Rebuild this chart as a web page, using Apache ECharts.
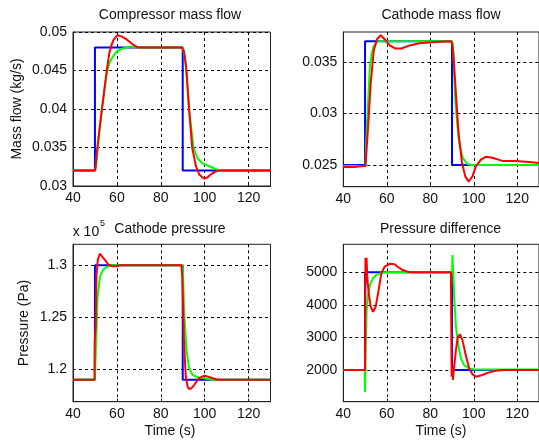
<!DOCTYPE html>
<html>
<head>
<meta charset="utf-8">
<script src="https://cdn.jsdelivr.net/npm/echarts@6/dist/echarts.min.js"></script>
<style>
html,body{margin:0;padding:0;background:#fff;}
#chart{width:539px;height:441px;}
</style>
</head>
<body>
<div id="chart"></div>
<script>
// ---------- Data (time in s) ----------
const xTicks = [40, 60, 80, 100, 120];

// Panel 1: Compressor mass flow (kg/s)
const cmfTicks = [0.03, 0.035, 0.04, 0.045, 0.05];
const cmfBlue = [[40,0.032],[50,0.032],[50,0.048],[90,0.048],[90,0.032],[130,0.032]];
const cmfGreen = [[40,0.032],[50,0.032],[50.5,0.0326],[51.3,0.035],[52.1,0.0375],[53.2,0.04],[54.4,0.0428],[55.6,0.045],[56.6,0.046],[57.7,0.0466],[60,0.0475],[63,0.0479],[66.1,0.0481],[70,0.048],[90,0.048],[90.4,0.0475],[91.3,0.0462],[92.9,0.04],[94.9,0.035],[96.7,0.0336],[99,0.0329],[102,0.0326],[106.7,0.032],[130,0.032]];
const cmfRed = [[40,0.032],[50.1,0.032],[50.6,0.0333],[51.1,0.035],[53.2,0.04],[55.4,0.045],[56.5,0.0472],[57.3,0.0481],[58.5,0.049],[60.3,0.0496],[62.3,0.0494],[64.6,0.049],[66.3,0.0486],[67.7,0.0483],[69.5,0.048],[89.5,0.048],[90.6,0.0475],[91.7,0.045],[92.9,0.04],[94.3,0.035],[96,0.0326],[97.5,0.0315],[99.8,0.03095],[101.2,0.0311],[102.8,0.0315],[104.5,0.0318],[105.9,0.032],[130,0.032]];

// Panel 2: Cathode mass flow
const camfTicks = [0.025, 0.03, 0.035];
const camfBlue = [[40,0.025],[50,0.025],[50,0.037],[90,0.037],[90,0.025],[130,0.025]];
const camfGreen = [[40,0.0249],[50.2,0.0249],[50.7,0.0281],[51.5,0.0315],[52.2,0.0345],[53,0.0357],[53.7,0.0364],[55,0.0368],[56,0.037],[90,0.037],[90.5,0.0365],[91.5,0.0313],[92.4,0.029],[93.3,0.0271],[94.9,0.0257],[97.1,0.0251],[99,0.025],[130,0.025]];
const camfRed = [[40,0.0248],[45,0.0248],[49,0.0249],[50.2,0.0249],[51.4,0.0287],[52.6,0.0329],[54,0.0361],[55.5,0.0372],[57.2,0.0376],[59,0.0372],[61.3,0.0366],[64,0.0363],[66.7,0.0363],[70.5,0.0366],[75,0.0368],[81,0.0369],[88.8,0.037],[90,0.0369],[90.6,0.0358],[91.8,0.0319],[93,0.0281],[94.6,0.0252],[96.1,0.0239],[97.6,0.0234],[99.4,0.0239],[101,0.0249],[103.2,0.0255],[105.5,0.0258],[108.6,0.0257],[113.1,0.0254],[119.2,0.0254],[125.3,0.0253],[130,0.0252]];

// Panel 3: Cathode pressure (x 10^5 Pa)
const cpTicks = [1.2, 1.25, 1.3];
const cpBlue = [[40,1.19],[50,1.19],[50,1.3],[90,1.3],[90,1.19],[130,1.19]];
const cpGreen = [[40,1.19],[50,1.19],[50.4,1.219],[51.2,1.27],[52.3,1.289],[53.8,1.296],[55.3,1.298],[57.6,1.3],[90,1.3],[90.1,1.295],[90.6,1.257],[91.7,1.219],[92.9,1.2013],[94.4,1.195],[96.7,1.1924],[99.8,1.1914],[103.5,1.19],[130,1.19]];
const cpRed = [[40,1.19],[49.8,1.19],[49.9,1.228],[50.3,1.24],[50.7,1.29],[51.3,1.305],[52.2,1.311],[53,1.31],[54.6,1.3048],[56.1,1.3006],[57.6,1.299],[60,1.299],[61.5,1.3],[89.4,1.3],[89.8,1.289],[90.3,1.25],[90.6,1.225],[91.4,1.193],[92.3,1.183],[93,1.181],[94,1.182],[95.2,1.185],[97.5,1.1917],[99.8,1.194],[102.1,1.1927],[104.4,1.191],[106,1.19],[130,1.19]];

// Panel 4: Pressure difference (Pa)
const pdTicks = [2000, 3000, 4000, 5000];
const pdBlue = [[40,2000],[50,2000],[50,5000],[90,5000],[90,2000],[130,2000]];
const pdGreen = [[40,2000],[49.8,2000],[50,1330],[50.3,2600],[50.7,3800],[51.3,4250],[52.2,4610],[53.7,4820],[55.2,4920],[58,4990],[60,5000],[90,5000],[90.2,5530],[91,4250],[91.8,3330],[93,2715],[94.1,2360],[95.6,2150],[97.9,2050],[100.3,2020],[130,2020]];
const pdRed = [[40,2000],[50,2000],[50.2,5450],[50.5,4650],[50.7,5450],[51,4870],[51.7,4355],[52.6,3946],[53.7,3790],[54.9,3946],[56,4355],[57.5,4970],[59,5174],[61.3,5260],[63.6,5246],[65,5170],[67.3,5070],[69.5,5020],[71,5000],[89.5,5000],[89.8,1800],[90.1,2100],[90.4,1700],[90.8,2000],[91.8,2610],[92.6,3000],[93.6,3100],[94.8,2920],[96.3,2460],[97.9,2050],[99.4,1870],[101.2,1795],[103.9,1850],[107,1930],[110.8,1990],[114,2000],[130,2000]];

// ---------- Chart ----------
const FONT = 'Liberation Sans, Arial, sans-serif';
const TXT = '#111';
const grids = [
  {left:73, top:32, width:197.5, height:154},
  {left:343.3, top:32, width:197, height:154.7},
  {left:73, top:244.3, width:197.5, height:157.4},
  {left:343.3, top:244.3, width:197, height:157.4}
];
const yRanges = [
  {min:0.03, max:0.05, ticks:cmfTicks},
  {min:0.0229, max:0.0379, ticks:camfTicks},
  {min:1.169, max:1.32, ticks:cpTicks},
  {min:1030, max:5860, ticks:pdTicks}
];
const panels = [
  [cmfBlue, cmfGreen, cmfRed],
  [camfBlue, camfGreen, camfRed],
  [cpBlue, cpGreen, cpRed],
  [pdBlue, pdGreen, pdRed]
];
const colors = ['#0000ff', '#00ff00', '#ff0000'];
const split = {show:true, lineStyle:{color:'#000', type:[3,3], width:1}};

const option = {
  animation:false,
  backgroundColor:'#fff',
  grid: grids.map(g => Object.assign({show:true, borderColor:'#222', borderWidth:1, backgroundColor:'transparent', containLabel:false}, g)),
  xAxis: grids.map((g,i) => ({
    type:'value', gridIndex:i, min:40, max:130,
    axisLine:{show:true, onZero:false, lineStyle:{color:'#222'}},
    axisTick:{show:true, inside:true, length:3, customValues:xTicks, lineStyle:{color:'#222'}},
    axisLabel:{customValues:xTicks, color:TXT, fontSize:14, fontFamily:FONT, margin:5},
    splitLine:split
  })),
  yAxis: yRanges.map((r,i) => ({
    type:'value', gridIndex:i, min:r.min, max:r.max,
    axisLine:{show:true, onZero:false, lineStyle:{color:'#222'}},
    axisTick:{show:true, inside:true, length:3, customValues:r.ticks, lineStyle:{color:'#222'}},
    axisLabel:{customValues:r.ticks, color:TXT, fontSize:14, fontFamily:FONT, margin:6, formatter: v => String(+v.toPrecision(6))},
    splitLine:split
  })),
  series: [],
  graphic: []
};
panels.forEach((p,i) => {
  p.forEach((d,k) => {
    option.series.push({
      type:'line', xAxisIndex:i, yAxisIndex:i, data:d, showSymbol:false, symbol:'none',
      lineStyle:{color:colors[k], width:2}, z:3+k, clip:true
    });
  });
});
const txt = (text, x, y, extra) => Object.assign({
  type:'text', x:x, y:y, z:100,
  style:{text:text, fill:TXT, font:'14px ' + FONT, textAlign:'center', textVerticalAlign:'middle'}
}, extra || {});
option.graphic = [
  txt('Compressor mass flow', 170, 15.5),
  txt('Cathode mass flow', 441, 15.5),
  txt('Cathode pressure', 170, 229),
  txt('Pressure difference', 440.5, 229),
  txt('Mass flow (kg/s)', 17.5, 109, {rotation:Math.PI/2}),
  txt('Pressure (Pa)', 24, 323, {rotation:Math.PI/2}),
  txt('Time (s)', 170, 431),
  txt('Time (s)', 441, 431),
  {type:'text', x:72.7, y:232, z:100, style:{text:'x 10', fill:TXT, font:'14px ' + FONT, textAlign:'left', textVerticalAlign:'middle'}},
  {type:'text', x:100, y:224, z:100, style:{text:'5', fill:TXT, font:'9px ' + FONT, textAlign:'left', textVerticalAlign:'middle'}}
];
const chart = echarts.init(document.getElementById('chart'), null, {renderer:'canvas'});
chart.setOption(option);
</script>
</body>
</html>
